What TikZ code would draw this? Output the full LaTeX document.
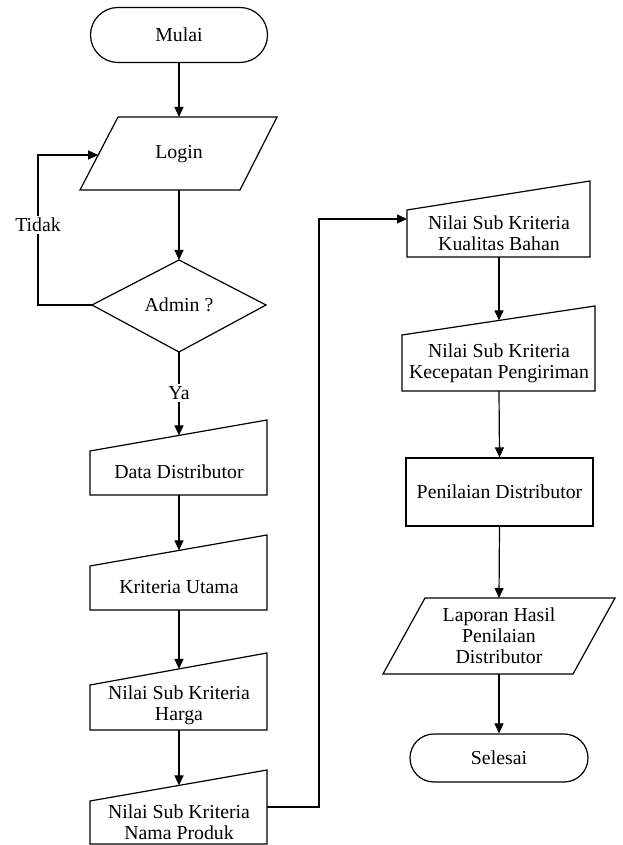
\documentclass[tikz,border=0pt]{standalone}
\usepackage{fontspec}
\setmainfont{Liberation Serif}
\usetikzlibrary{shapes.misc,arrows.meta}
\begin{document}
\begin{tikzpicture}[x=1pt,y=1pt,line width=1.2pt,
  txt/.style={font=\fontsize{19.8}{21}\selectfont,align=center,inner sep=0pt},
  term/.style={txt,draw,rounded rectangle},
  procbox/.style={txt,draw,rectangle},
  lbl/.style={txt,fill=white,inner sep=2pt},
  arr/.style={-{Triangle[length=10pt,width=9pt]}}]
\useasboundingbox[fill=white] (0,0) rectangle (622,845);
% Mulai
\node[term,minimum width=177pt,minimum height=55pt] (mulai) at (179,810) {Mulai};
% Login
\draw (80,655) -- (118,728) -- (277,728) -- (240,655) -- cycle;
\node[txt] (login) at (179,691) {Login};
\coordinate (loginN) at (179,728);
\coordinate (loginS) at (179,655);
\coordinate (loginW) at (98.2,690);
% Admin
\draw (92,540) -- (179,585) -- (266,540) -- (179,493) -- cycle;
\node[txt] (admin) at (179,540) {Admin ?};
\coordinate (adminN) at (179,585);
\coordinate (adminS) at (179,493);
\coordinate (adminW) at (92,540);
% Data Distributor
\draw (90,350) -- (267,350) -- (267,425) -- (90,394) -- cycle;
\node[txt] (dd) at (179,373) {Data Distributor};
\coordinate (ddN) at (179,409.6);
\coordinate (ddS) at (179,350);
% Kriteria Utama
\draw (90,235) -- (267,235) -- (267,310) -- (90,279) -- cycle;
\node[txt] (ku) at (179,258) {Kriteria Utama};
\coordinate (kuN) at (179,294.6);
\coordinate (kuS) at (179,235);
% Harga
\draw (90,115) -- (267,115) -- (267,192) -- (90,160) -- cycle;
\node[txt] (hg) at (179,140) {Nilai Sub Kriteria\\Harga};
\coordinate (hgN) at (179,176);
\coordinate (hgS) at (179,115);
% Nama Produk
\draw (90,1) -- (267,1) -- (267,75) -- (90,44) -- cycle;
\node[txt] (np) at (179,23) {Nilai Sub Kriteria\\Nama Produk};
\coordinate (npN) at (179,59.6);
\coordinate (npE) at (267,38);
% Kualitas Bahan
\draw (407,588) -- (590,588) -- (590,664) -- (407,635) -- cycle;
\node[txt] (kb) at (499,612) {Nilai Sub Kriteria\\Kualitas Bahan};
\coordinate (kbS) at (499,588);
\coordinate (kbW) at (407,626);
% Kecepatan Pengiriman
\draw (402,454) -- (595,454) -- (595,539) -- (402,510) -- cycle;
\node[txt] (kp) at (499,482) {Nilai Sub Kriteria\\Kecepatan Pengiriman};
\coordinate (kpN) at (499,524.6);
\coordinate (kpS) at (499,454);
% Penilaian
\node[procbox,minimum width=187pt,minimum height=68pt] (pen) at (499.5,353) {Penilaian Distributor};
% Laporan
\draw (383,171) -- (425,247) -- (615,247) -- (573,171) -- cycle;
\node[txt] (lap) at (499,209) {Laporan Hasil\\Penilaian\\Distributor};
\coordinate (lapN) at (499,247);
\coordinate (lapS) at (499,171);
% Selesai
\node[term,minimum width=178pt,minimum height=48pt] (sel) at (499,87) {Selesai};
% connectors
\draw[arr] (mulai.south) -- (loginN);
\draw[arr] (loginS) -- (adminN);
\draw[arr] (adminW) -- ++(-54,0) |- (loginW);
\node[lbl] (tidak) at (38,620) {Tidak};
\draw[arr] (adminS) -- (ddN);
\node[lbl] (ya) at (179,452) {Ya};
\draw[arr] (ddS) -- (kuN);
\draw[arr] (kuS) -- (hgN);
\draw[arr] (hgS) -- (npN);
\draw[arr] (npE) -- ++(52,0) |- (kbW);
\draw[arr] (kbS) -- (kpN);
\draw[arr] (kpS) -- (pen.north);
\draw[arr] (pen.south) -- (lapN);
\draw[arr] (lapS) -- (sel.north);
\end{tikzpicture}
\end{document}
